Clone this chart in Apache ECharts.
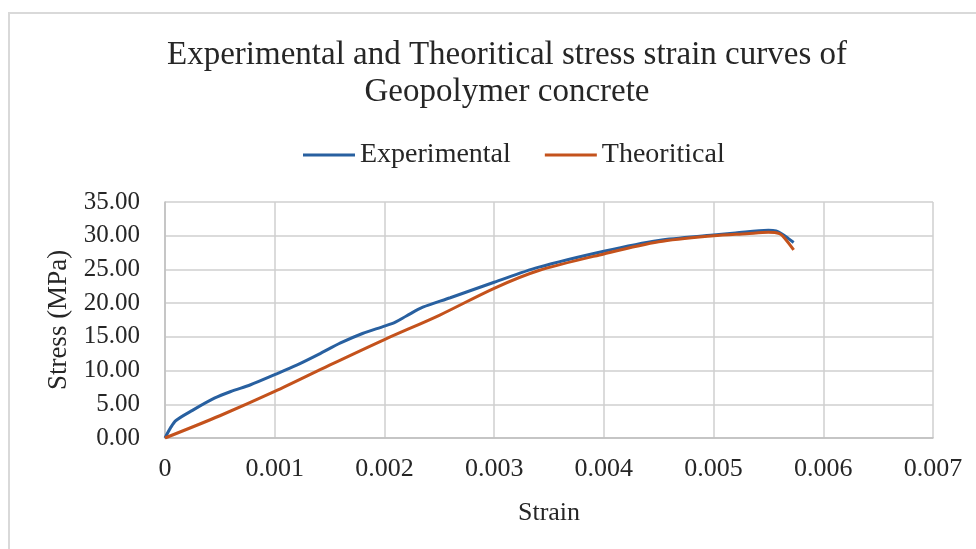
<!DOCTYPE html>
<html>
<head>
<meta charset="utf-8">
<title>Stress strain curves</title>
<script src="https://cdn.jsdelivr.net/npm/echarts@6/dist/echarts.min.js"></script>
<style>
  html, body { margin: 0; padding: 0; background: #fff; }
  #grafico { width: 976px; height: 549px; }
</style>
</head>
<body>
<div id="grafico"></div>
<script>
// valores
const expStrain = [0, 0.00005, 0.0001, 0.00025, 0.00045, 0.0006, 0.00078, 0.001, 0.0012, 0.0014,
  0.0016, 0.0018, 0.002, 0.0021, 0.0022, 0.00235, 0.0026, 0.003, 0.0034, 0.004,
  0.0045, 0.005, 0.0052, 0.0055, 0.00557, 0.00562, 0.00568, 0.00573]
const expStress = [0, 1.5, 2.6, 4.1, 5.9, 6.9, 7.9, 9.4, 10.8, 12.4,
  14.1, 15.5, 16.6, 17.2, 18.1, 19.4, 20.8, 23.1, 25.3, 27.7,
  29.3, 30.1, 30.4, 30.8, 30.7, 30.3, 29.6, 29.0]

const theoStrain = [0, 0.0005, 0.001, 0.0015, 0.002, 0.0025, 0.003, 0.0034, 0.004, 0.0045,
  0.005, 0.0053, 0.0055, 0.0056, 0.00565, 0.00573]
const theoStress = [0, 3.3, 6.9, 10.8, 14.6, 18.2, 22.2, 24.8, 27.3, 29.1,
  30.0, 30.3, 30.5, 30.3, 29.6, 27.9]

const fuente = '"Liberation Serif", "Times New Roman", serif'
const colorTexto = '#262626'

const miGrafico = echarts.init(document.getElementById('grafico'))

const opciones = {
  backgroundColor: '#fff',
  animation: false,
  graphic: [{
    type: 'rect',
    shape: { x: 9, y: 13, width: 1000, height: 600 },
    style: { fill: 'none', stroke: '#d9d9d9', lineWidth: 2 },
    silent: true
  }],
  title: {
    text: 'Experimental and Theoritical stress strain curves of\nGeopolymer concrete',
    left: 502,
    top: 32,
    textAlign: 'center',
    textStyle: {
      fontFamily: fuente,
      fontSize: 33,
      fontWeight: 'normal',
      color: colorTexto,
      lineHeight: 37
    }
  },
  legend: {
    top: 136,
    left: 298,
    icon: 'rect',
    itemWidth: 52,
    itemHeight: 3,
    itemGap: 34,
    textStyle: { fontFamily: fuente, fontSize: 28, color: colorTexto },
    data: ['Experimental', 'Theoritical']
  },
  grid: {
    left: 165,
    right: 43,
    top: 202,
    bottom: 111,
    containLabel: false
  },
  xAxis: {
    type: 'value',
    min: 0,
    max: 0.007,
    interval: 0.001,
    name: 'Strain',
    nameLocation: 'middle',
    nameGap: 62,
    nameTextStyle: { fontFamily: fuente, fontSize: 26, color: colorTexto },
    axisLine: { show: true, lineStyle: { color: '#bfbfbf', width: 1.5 } },
    axisTick: { show: false },
    axisLabel: {
      fontFamily: fuente,
      fontSize: 26,
      color: colorTexto,
      margin: 18,
      formatter: v => (v === 0 ? '0' : v.toFixed(3))
    },
    splitLine: { show: true, lineStyle: { color: '#cfcfcf', width: 1.5 } }
  },
  yAxis: {
    type: 'value',
    min: 0,
    max: 35,
    interval: 5,
    name: 'Stress (MPa)',
    nameLocation: 'middle',
    nameGap: 93,
    nameTextStyle: { fontFamily: fuente, fontSize: 27, color: colorTexto },
    axisLine: { show: true, lineStyle: { color: '#bfbfbf', width: 1.5 } },
    axisTick: { show: false },
    axisLabel: {
      fontFamily: fuente,
      fontSize: 25,
      color: colorTexto,
      margin: 25,
      formatter: v => v.toFixed(2)
    },
    splitLine: { show: true, lineStyle: { color: '#cfcfcf', width: 1.5 } }
  },
  series: [
    {
      name: 'Experimental',
      type: 'line',
      smooth: 0.3,
      showSymbol: false,
      data: expStrain.map((x, i) => [x, expStress[i]]),
      lineStyle: { color: '#2860a0', width: 3 },
      itemStyle: { color: '#2860a0' },
      z: 3
    },
    {
      name: 'Theoritical',
      type: 'line',
      smooth: 0.3,
      showSymbol: false,
      data: theoStrain.map((x, i) => [x, theoStress[i]]),
      lineStyle: { color: '#c4521c', width: 3 },
      itemStyle: { color: '#c4521c' },
      z: 4
    }
  ]
}

miGrafico.setOption(opciones, true)
</script>
</body>
</html>
